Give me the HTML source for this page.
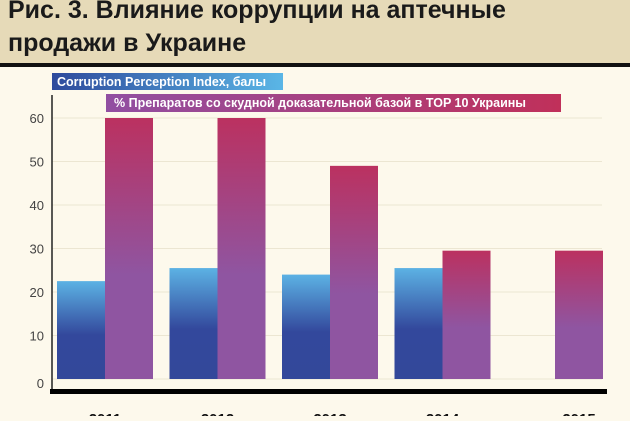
<!DOCTYPE html>
<html><head><meta charset="utf-8"><style>
body{margin:0;width:630px;height:416px;overflow:hidden;background:#fdf9ec;font-family:"Liberation Sans","DejaVu Sans",sans-serif}
</style></head><body>
<svg width="630" height="416" xmlns="http://www.w3.org/2000/svg">
<defs>
<linearGradient id="gb" x1="0" y1="0" x2="0" y2="1"><stop offset="0" stop-color="#5cb2e4"/><stop offset="0.55" stop-color="#33489c"/><stop offset="1" stop-color="#33489a"/></linearGradient>
<linearGradient id="gp" x1="0" y1="0" x2="0" y2="1"><stop offset="0" stop-color="#bb3160"/><stop offset="0.6" stop-color="#8f55a1"/><stop offset="1" stop-color="#8f55a1"/></linearGradient>
<linearGradient id="lb" x1="0" y1="0" x2="1" y2="0"><stop offset="0" stop-color="#2e4a9c"/><stop offset="1" stop-color="#5ab6e6"/></linearGradient>
<linearGradient id="lp" x1="0" y1="0" x2="1" y2="0"><stop offset="0" stop-color="#914fa2"/><stop offset="1" stop-color="#c0305a"/></linearGradient>
</defs>
<rect x="0" y="0" width="630" height="64" fill="#e6dab8"/>
<rect x="0" y="63" width="630" height="4" fill="#111"/>
<text x="8" y="18" font-size="25" font-weight="bold" fill="#1a1a1a">Рис. 3. Влияние коррупции на аптечные</text>
<text x="8" y="51" font-size="25" font-weight="bold" fill="#1a1a1a">продажи в Украине</text>
<g id="grid"></g>
<g id="bars"></g>
<line x1="52" y1="95" x2="52" y2="392" stroke="#222" stroke-width="1.5"/>
<rect x="50" y="389" width="557" height="5" fill="#000"/>
<rect x="52" y="73" width="231" height="17" fill="url(#lb)"/>
<text x="57" y="86" font-size="12.5" font-weight="bold" fill="#fff">Corruption Perception Index, балы</text>
<rect x="106" y="94" width="455" height="18" fill="url(#lp)"/>
<text x="114" y="107" font-size="12.5" font-weight="bold" fill="#fff">% Препаратов со скудной доказательной базой в TOP 10 Украины</text>
<g id="xl"></g>
</svg>
<script>
const years=["2011","2012","2013","2014","2015"];
const cpi=[22.5,25.5,24,25.5,null];
const drugs=[60,60,49,29.5,29.5];
const yTicks=[0,10,20,30,40,50,60];
const NS="http://www.w3.org/2000/svg";
const y0=379,pxPer=4.35;
function y(v){return y0-v*pxPer;}
function gx(i){return 57+i*112.5;}
function mk(t,a,p){const e=document.createElementNS(NS,t);for(const k in a)e.setAttribute(k,a[k]);p.appendChild(e);return e;}
const grid=document.getElementById('grid'),bars=document.getElementById('bars'),xl=document.getElementById('xl');
yTicks.forEach(v=>{
 const l=mk('line',{x1:52,x2:602,y1:y(v),y2:y(v),stroke:'#ece6d2','stroke-width':1},grid);
 
 
 const t=mk('text',{x:44,y:y(v)+(v===0?9:5),'text-anchor':'end','font-size':13,fill:'#444'},grid);
 t.textContent=v;
 
 
});
years.forEach((yr,i)=>{
 const x=gx(i);
 if(cpi[i]!=null){
  const r=mk('rect',{x:x,y:y(cpi[i]),width:48,height:cpi[i]*pxPer,fill:'url(#gb)'},bars);
  
  
 }
 const r2=mk('rect',{x:x+48,y:y(drugs[i]),width:48,height:drugs[i]*pxPer,fill:'url(#gp)'},bars);
 
 
 const cx=cpi[i]!=null?x+48:x+72;
 const t=mk('text',{x:cx,y:424,'text-anchor':'middle','font-size':15,'font-weight':'bold',fill:'#111'},xl);
 t.textContent=yr;
 
 
});
</script>
</body></html>
